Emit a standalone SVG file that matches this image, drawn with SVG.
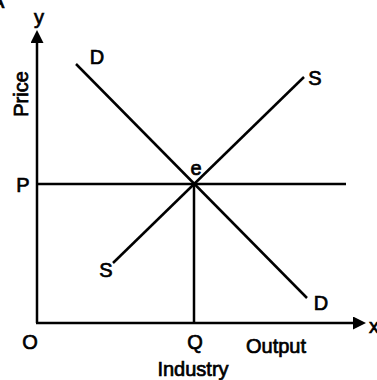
<svg xmlns="http://www.w3.org/2000/svg" width="377" height="380" viewBox="0 0 377 380">
<style>
.ln{stroke:#000;stroke-width:2.5;fill:none;stroke-linecap:butt}
.t{font-family:"Liberation Sans",Arial,sans-serif;font-size:20px;fill:#000;stroke:#000;stroke-width:0.7}
.m{text-anchor:middle}
</style>
<defs>
<marker id="ah" viewBox="0 0 10 10" refX="0" refY="5" markerWidth="13" markerHeight="13" markerUnits="userSpaceOnUse" orient="auto">
<path d="M0,0 L10,5 L0,10 Z" fill="#000"/>
</marker>
</defs>
<rect width="377" height="380" fill="#fff"/>
<text class="t" x="-9" y="8">A</text>
<g id="connectors">
<line id="y-axis" class="ln" x1="37" y1="323" x2="37" y2="43" marker-end="url(#ah)"/>
<line id="x-axis" class="ln" x1="36" y1="323" x2="353" y2="323" marker-end="url(#ah)"/>
<line id="demand" class="ln" x1="76" y1="64" x2="307" y2="298"/>
<line id="supply" class="ln" x1="113" y1="263" x2="304" y2="77"/>
<line id="price-line" class="ln" x1="37" y1="184" x2="346" y2="184"/>
<line id="qty-line" class="ln" x1="194" y1="184" x2="194" y2="323"/>
</g>
<g id="label-y"><text class="t m" x="39" y="24">y</text></g>
<g id="label-x"><text class="t" x="369" y="333">x</text></g>
<g id="label-price"><text class="t m" transform="translate(28,94) rotate(-90)">Price</text></g>
<g id="label-P"><text class="t m" x="23" y="192">P</text></g>
<g id="label-O"><text class="t m" x="30" y="349">O</text></g>
<g id="label-Q"><text class="t m" x="195" y="349">Q</text></g>
<g id="label-output"><text class="t m" x="276" y="353">Output</text></g>
<g id="label-industry"><text class="t m" x="193" y="376">Industry</text></g>
<g id="label-e"><text class="t m" x="196" y="175">e</text></g>
<g id="label-D1"><text class="t m" x="97" y="64">D</text></g>
<g id="label-D2"><text class="t m" x="321" y="310">D</text></g>
<g id="label-S1"><text class="t m" x="315" y="85">S</text></g>
<g id="label-S2"><text class="t m" x="106" y="277">S</text></g>
</svg>
